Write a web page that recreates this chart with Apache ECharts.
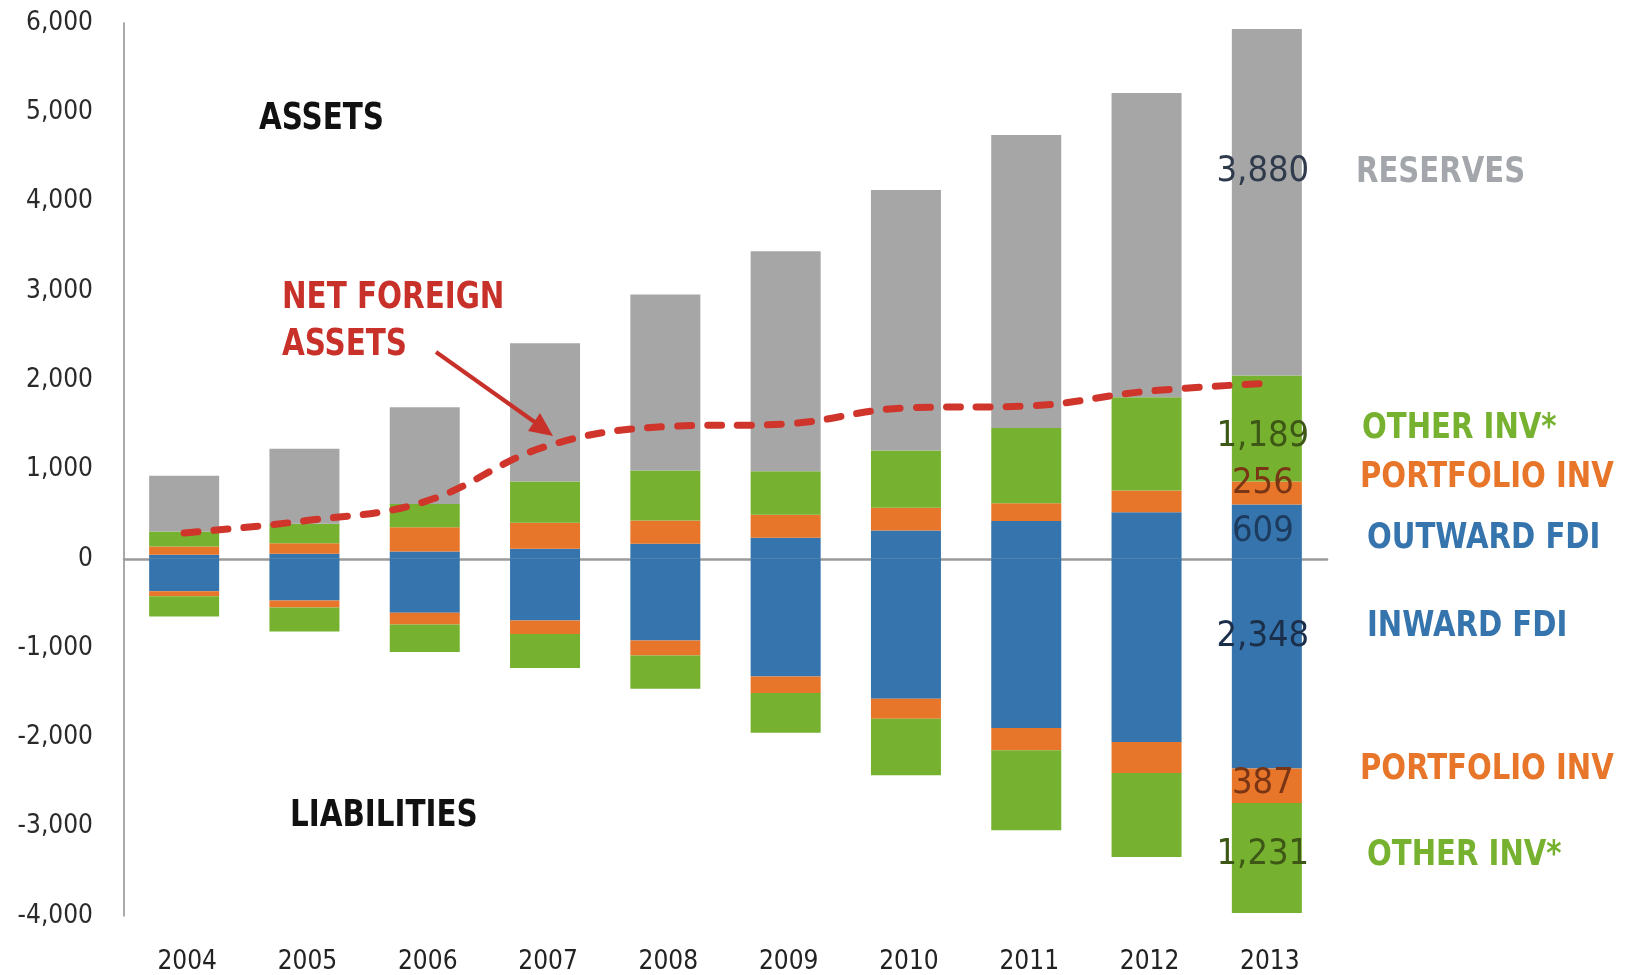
<!DOCTYPE html>
<html>
<head>
<meta charset="utf-8">
<script src="https://cdn.jsdelivr.net/npm/echarts@6/dist/echarts.min.js"></script>
<style>
  html, body { margin: 0; padding: 0; background: #fff; }
  #chart { width: 1626px; height: 975px; }
</style>
</head>
<body>
<div id="chart"></div>
<script>
// 数据
const years = ['2004', '2005', '2006', '2007', '2008', '2009', '2010', '2011', '2012', '2013'];
const outwardFDI = [45, 56, 82, 112, 168, 235, 317, 422, 522, 609];
const portfolioAssets = [93, 119, 272, 291, 261, 257, 254, 201, 243, 256];
const otherAssets = [168, 217, 261, 462, 559, 489, 641, 843, 1044, 1189];
const reserves = [623, 839, 1082, 1549, 1972, 2462, 2917, 3279, 3406, 3880];
const inwardFDI = [-362, -466, -604, -690, -914, -1318, -1567, -1895, -2051, -2348];
const portfolioLiab = [-56, -79, -131, -153, -168, -186, -223, -250, -347, -387];
const otherLiab = [-227, -268, -309, -380, -373, -443, -635, -895, -940, -1231];
const netForeignAssets = [290, 425, 640, 1255, 1480, 1510, 1690, 1710, 1875, 1965];
const yMin = -4000;
const yMax = 6000;
const yStep = 1000;

const FONT = "'DejaVu Sans Condensed', 'Liberation Sans Narrow', 'Roboto', sans-serif";
const fmt = v => Math.abs(v).toLocaleString('en-US');

// 只给最后一年显示数值
const withLastLabel = (values, color, dy) => values.map((v, i) => {
  if (i !== values.length - 1) return v;
  return {
    value: v,
    label: {
      show: true, position: 'inside', offset: [-4, dy],
      color: color, fontFamily: FONT, fontSize: 36,
      formatter: p => fmt(p.value)
    }
  };
});

const barSeries = (name, values, color, labelColor, dy) => ({
  name: name,
  type: 'bar',
  stack: 'total',
  barWidth: 70,
  itemStyle: { color: color },
  data: withLastLabel(values, labelColor, dy)
});

const chart = echarts.init(document.getElementById('chart'));

// 注释文字（横向压缩一点，接近原图的窄字体）
const txt = (text, x, y, color, size, sx) => ({
  type: 'text',
  x: x, y: y, z: 100,
  scaleX: sx || 0.86,
  style: {
    text: text, x: 0, y: 0, fill: color,
    font: 'bold ' + size + 'px ' + FONT,
    textAlign: 'left', textVerticalAlign: 'middle'
  }
});

chart.setOption({
  animation: false,
  grid: { left: 124, right: 299, top: 23, bottom: 58 },
  xAxis: [{
    type: 'category',
    data: years,
    axisLine: { onZero: true, lineStyle: { color: '#9a9a9a', width: 2.5 } },
    axisTick: { show: false },
    axisLabel: { show: false }
  }, {
    type: 'category',
    data: years,
    position: 'bottom',
    axisLine: { show: false },
    axisTick: { show: false },
    axisLabel: { margin: 33, padding: [0, 0, 0, 6], color: '#222', fontFamily: FONT, fontSize: 26 }
  }],
  yAxis: {
    type: 'value',
    min: yMin, max: yMax, interval: yStep,
    axisLine: { show: true, lineStyle: { color: '#8c8c8c', width: 1.5 } },
    axisTick: { show: false },
    splitLine: { show: false },
    axisLabel: { margin: 31, color: '#2a2a2a', fontFamily: FONT, fontSize: 26, formatter: v => (v < 0 ? '-' : '') + fmt(v) }
  },
  series: [
    barSeries('Outward FDI', outwardFDI, '#3574ac', '#1d3b5e', 0),
    barSeries('Inward FDI', inwardFDI, '#3574ac', '#1c2f4a', -27),
    barSeries('Portfolio assets', portfolioAssets, '#e8762a', '#7a3514', -9),
    barSeries('Portfolio liabilities', portfolioLiab, '#e8762a', '#7a3514', -2),
    barSeries('Other inv assets', otherAssets, '#76b22f', '#3d5716', 8),
    barSeries('Other inv liabilities', otherLiab, '#76b22f', '#3d5716', -3),
    barSeries('Reserves', reserves, '#a6a6a6', '#2f3b4c', -30),
    {
      name: 'Net foreign assets',
      type: 'line',
      smooth: 0.4,
      symbol: 'none',
      z: 5,
      lineStyle: { color: '#d0352b', width: 7, type: [14, 16], cap: 'round' },
      data: netForeignAssets
    }
  ],
  graphic: [
    txt('ASSETS', 259, 119, '#111', 38),
    txt('LIABILITIES', 290, 816, '#111', 38),
    txt('NET FOREIGN', 282, 298, '#c8312a', 38),
    txt('ASSETS', 282, 345, '#c8312a', 38),
    { type: 'line', z: 100, shape: { x1: 436, y1: 352, x2: 536, y2: 423 }, style: { stroke: '#c8312a', lineWidth: 4 } },
    { type: 'polygon', z: 100, shape: { points: [[553, 436], [528, 431], [540, 413]] }, style: { fill: '#c8312a' } },
    txt('RESERVES', 1356, 173, '#a3a6ab', 36, 0.9),
    txt('OTHER INV*', 1362, 429, '#76b22f', 36, 0.9),
    txt('PORTFOLIO INV', 1360, 478, '#e8762a', 36, 0.9),
    txt('OUTWARD FDI', 1367, 539, '#3574ac', 36, 0.9),
    txt('INWARD FDI', 1367, 627, '#3574ac', 36, 0.9),
    txt('PORTFOLIO INV', 1360, 770, '#e8762a', 36, 0.9),
    txt('OTHER INV*', 1367, 856, '#76b22f', 36, 0.9)
  ]
});
</script>
</body>
</html>
